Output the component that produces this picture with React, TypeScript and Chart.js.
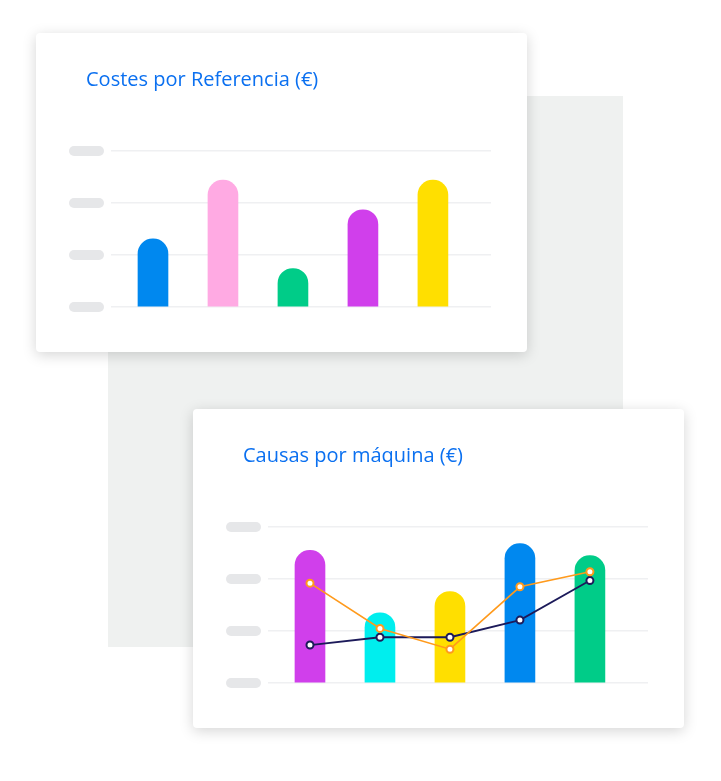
import React, { useEffect, useRef } from "react";
import { Chart, registerables } from "chart.js";

Chart.register(...registerables);

// ---- Data: top card "Costes por Referencia (€)"
const costCategories = ["Ref 1", "Ref 2", "Ref 3", "Ref 4", "Ref 5"];
const costValues = [1.31, 2.44, 0.74, 1.87, 2.44];
const costColors = ["#0088ef", "#ffaae3", "#00cc88", "#d03feb", "#ffdf00"];

// ---- Data: bottom card "Causas por máquina (€)"
const machineCategories = ["Máquina 1", "Máquina 2", "Máquina 3", "Máquina 4", "Máquina 5"];
const machineValues = [2.55, 1.35, 1.76, 2.68, 2.45];
const machineColors = ["#d03feb", "#00eeee", "#ffdf00", "#0088ef", "#00cc88"];
const navySeries = [0.73, 0.88, 0.88, 1.21, 1.97];
const orangeSeries = [1.92, 1.05, 0.65, 1.85, 2.14];

// y ticks (rendered as grey placeholder pills)
const yTicks = [0, 1, 2, 3];

const CARD_W = 491;
const CARD_H = 319;

const pillPlugin = {
  id: "pills",
  beforeDatasetsDraw(chart: any) {
    const { ctx, chartArea, scales } = chart;
    const y = scales.y;
    ctx.save();
    ctx.fillStyle = "#e6e7e9";
    y.ticks.forEach((t: any) => {
      const py = y.getPixelForValue(t.value);
      const x0 = chartArea.left - 42;
      const w = 35;
      const h = 10;
      const r = 5;
      ctx.beginPath();
      ctx.roundRect(x0, py - h / 2, w, h, r);
      ctx.fill();
    });
    ctx.restore();
  },
};

function baseOptions() {
  return {
    responsive: false,
    animation: false as const,
    layout: { padding: { left: 75, right: 36, top: 118, bottom: 45 } },
    plugins: { legend: { display: false }, tooltip: { enabled: false }, title: { display: false } },
    scales: {
      x: {
        type: "linear" as const,
        bounds: "data" as const,
        offset: false,
        min: -0.6,
        max: 4.83,
        display: false,
        grid: { display: false, offset: false },
      },
      y: {
        min: yTicks[0],
        max: yTicks[yTicks.length - 1],
        afterBuildTicks: (axis: any) => {
          axis.ticks = yTicks.map((v) => ({ value: v }));
        },
        ticks: { display: false },
        border: { display: false },
        grid: { color: "#eff0f2", lineWidth: 1.5, drawTicks: false },
      },
    },
  };
}

function CostChart() {
  const ref = useRef<HTMLCanvasElement>(null);
  useEffect(() => {
    const chart = new Chart(ref.current!, {
      type: "bar",
      data: {
        labels: costCategories,
        datasets: [
          {
            data: costValues.map((v, i) => ({ x: i, y: v })),
            backgroundColor: costColors,
            barThickness: 30,
            borderRadius: { topLeft: 15, topRight: 15, bottomLeft: 0, bottomRight: 0 },
            borderSkipped: false,
          } as any,
        ],
      },
      options: baseOptions() as any,
      plugins: [pillPlugin],
    });
    return () => chart.destroy();
  }, []);
  return <canvas ref={ref} width={CARD_W} height={CARD_H} style={{ position: "absolute", left: 0, top: 0 }} />;
}

function MachineChart() {
  const ref = useRef<HTMLCanvasElement>(null);
  useEffect(() => {
    const chart = new Chart(ref.current!, {
      type: "bar",
      data: {
        labels: machineCategories,
        datasets: [
          {
            type: "line",
            data: orangeSeries.map((v, i) => ({ x: i, y: v })),
            borderColor: "#ff9a1c",
            borderWidth: 1.6,
            pointRadius: 3.5,
            pointBorderWidth: 2,
            pointBackgroundColor: "#ffffff",
            pointBorderColor: "#ff9a1c",
            tension: 0,
            order: 0,
          } as any,
          {
            type: "line",
            data: navySeries.map((v, i) => ({ x: i, y: v })),
            borderColor: "#1c1a5a",
            borderWidth: 1.8,
            pointRadius: 3.5,
            pointBorderWidth: 2,
            pointBackgroundColor: "#ffffff",
            pointBorderColor: "#1c1a5a",
            tension: 0,
            order: 1,
          } as any,
          {
            type: "bar",
            data: machineValues.map((v, i) => ({ x: i, y: v })),
            backgroundColor: machineColors,
            barThickness: 30,
            borderRadius: { topLeft: 15, topRight: 15, bottomLeft: 0, bottomRight: 0 },
            borderSkipped: false,
            order: 2,
          } as any,
        ],
      },
      options: baseOptions() as any,
      plugins: [pillPlugin],
    });
    return () => chart.destroy();
  }, []);
  return <canvas ref={ref} width={CARD_W} height={CARD_H} style={{ position: "absolute", left: 0, top: 0 }} />;
}

const titleStyle: React.CSSProperties = {
  position: "absolute",
  left: 50,
  top: 32,
  fontFamily: "'Open Sans', sans-serif",
  fontSize: 20,
  color: "#0b70f0",
  whiteSpace: "nowrap",
  zIndex: 2,
};

const cardStyle = (left: number, top: number): React.CSSProperties => ({
  position: "absolute",
  left,
  top,
  width: CARD_W,
  height: CARD_H,
  background: "#ffffff",
  borderRadius: 4,
  boxShadow: "0 3px 14px rgba(0,0,0,0.17)",
  overflow: "hidden",
});

export default function App() {
  return (
    <div
      style={{
        position: "absolute",
        left: 0,
        top: 0,
        width: 721,
        height: 781,
        background: "#ffffff",
        overflow: "hidden",
      }}
    >
      <div
        style={{
          position: "absolute",
          left: 108,
          top: 96,
          width: 515,
          height: 551,
          background: "#eff1f0",
        }}
      />
      <div style={cardStyle(36, 33)}>
        <div style={titleStyle}>Costes por Referencia (€)</div>
        <CostChart />
      </div>
      <div style={cardStyle(193, 409)}>
        <div style={titleStyle}>Causas por máquina (€)</div>
        <MachineChart />
      </div>
    </div>
  );
}
